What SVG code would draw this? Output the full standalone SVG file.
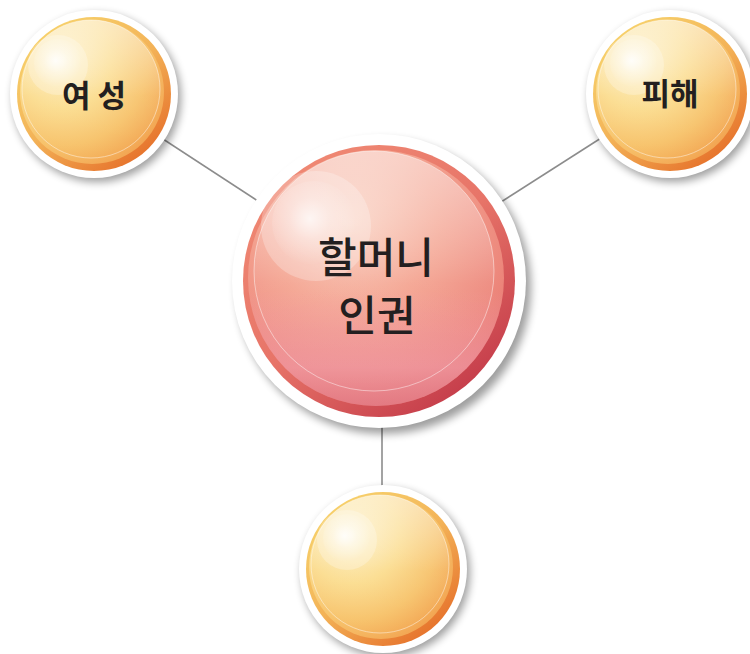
<svg xmlns="http://www.w3.org/2000/svg" width="750" height="654" viewBox="0 0 750 654">
<style>
.conn{stroke:#8c8c8c;stroke-width:1.6;fill:none}
.plate{fill:#fff}
.shadow{fill:#000;opacity:.38;filter:url(#blur)}
.hl{fill:#fff;opacity:.25}
.ring{fill:none;stroke:#fff;stroke-opacity:.45;stroke-width:1}
.lbl{font-family:"Noto Sans CJK KR","Noto Sans",sans-serif;fill:#231f20;text-anchor:middle;dominant-baseline:central}
.small{font-size:31px;font-weight:700}
.big{font-size:42px;font-weight:500}
</style>
<defs>
<filter id="blur" x="-20%" y="-20%" width="140%" height="140%"><feGaussianBlur stdDeviation="4"/></filter>
<linearGradient id="oRim" x1="0.15" y1="0.05" x2="0.85" y2="0.95">
<stop offset="0" stop-color="#f7d36c"/><stop offset="0.5" stop-color="#f3b257"/><stop offset="1" stop-color="#e56d28"/>
</linearGradient>
<radialGradient id="oBody" cx="0.3" cy="0.28" r="0.95">
<stop offset="0" stop-color="#fdf0c6"/><stop offset="0.35" stop-color="#fbdc8e"/><stop offset="0.62" stop-color="#f7c36c"/><stop offset="0.85" stop-color="#f2a451"/><stop offset="1" stop-color="#ee9042"/>
</radialGradient>
<linearGradient id="topGlow" x1="0" y1="0" x2="0" y2="1">
<stop offset="0" stop-color="#fff" stop-opacity=".5"/><stop offset="0.55" stop-color="#fff" stop-opacity=".06"/><stop offset="1" stop-color="#fff" stop-opacity="0"/>
</linearGradient>
<radialGradient id="spot" cx="0.45" cy="0.45" r="0.55">
<stop offset="0" stop-color="#fff" stop-opacity="1"/><stop offset="0.45" stop-color="#fff" stop-opacity=".4"/><stop offset="1" stop-color="#fff" stop-opacity="0"/>
</radialGradient>
<linearGradient id="rRim" x1="0.15" y1="0.05" x2="0.85" y2="0.95">
<stop offset="0" stop-color="#f08a74"/><stop offset="0.5" stop-color="#e77468"/><stop offset="1" stop-color="#c23848"/>
</linearGradient>
<radialGradient id="rBody" cx="0.4" cy="0.28" r="0.85">
<stop offset="0" stop-color="#f9cdbc"/><stop offset="0.4" stop-color="#f4a491"/><stop offset="0.75" stop-color="#ec857a"/><stop offset="1" stop-color="#de6a6c"/>
</radialGradient>
<linearGradient id="rBottom" x1="0" y1="0" x2="0" y2="1">
<stop offset="0.55" stop-color="#f4a0b0" stop-opacity="0"/><stop offset="0.85" stop-color="#f09aaa" stop-opacity=".6"/><stop offset="1" stop-color="#e07a90" stop-opacity=".5"/>
</linearGradient>
</defs>

<g id="connectors">
<line class="conn" x1="94" y1="94" x2="379" y2="280"/>
<line class="conn" x1="670" y1="94" x2="379" y2="280"/>
<line class="conn" x1="382" y1="280" x2="382" y2="569"/>
</g>

<g id="node-women" transform="translate(94,94)">
<circle class="shadow" cx="3" cy="4" r="84"/>
<circle class="plate" r="84"/>
<circle r="77" fill="url(#oRim)"/>
<circle cx="-2" cy="-2" r="72" fill="url(#oBody)"/>
<circle cx="-3" cy="-5" r="69" fill="url(#topGlow)"/>
<circle cx="-3" cy="-5" r="69" class="ring"/>
<circle class="hl" cx="-36" cy="-29" r="30"/>
<circle cx="-36" cy="-31" r="24" fill="url(#spot)" opacity=".85"/>
<text class="lbl small" x="0" y="-1">여 성</text>
</g>

<g id="node-damage" transform="translate(670,94)">
<circle class="shadow" cx="3" cy="4" r="84"/>
<circle class="plate" r="84"/>
<circle r="77" fill="url(#oRim)"/>
<circle cx="-2" cy="-2" r="72" fill="url(#oBody)"/>
<circle cx="-3" cy="-5" r="69" fill="url(#topGlow)"/>
<circle cx="-3" cy="-5" r="69" class="ring"/>
<circle class="hl" cx="-36" cy="-29" r="30"/>
<circle cx="-36" cy="-31" r="24" fill="url(#spot)" opacity=".85"/>
<text class="lbl small" x="0" y="-3">피해</text>
</g>

<g id="node-bottom" transform="translate(383,569)">
<circle class="shadow" cx="3" cy="4" r="84"/>
<circle class="plate" r="84"/>
<circle r="77" fill="url(#oRim)"/>
<circle cx="-2" cy="-2" r="72" fill="url(#oBody)"/>
<circle cx="-3" cy="-5" r="69" fill="url(#topGlow)"/>
<circle cx="-3" cy="-5" r="69" class="ring"/>
<circle class="hl" cx="-36" cy="-29" r="30"/>
<circle cx="-36" cy="-31" r="24" fill="url(#spot)" opacity=".85"/>
</g>

<g id="node-center" transform="translate(379,281)">
<circle class="shadow" cx="5" cy="6" r="147"/>
<circle class="plate" r="147"/>
<circle r="136" fill="url(#rRim)"/>
<circle cx="-3" cy="-3" r="128" fill="url(#rBody)"/>
<circle cx="-3" cy="-3" r="128" fill="url(#rBottom)"/>
<circle cx="-5" cy="-10" r="120" fill="url(#topGlow)"/>
<circle cx="-5" cy="-10" r="120" class="ring"/>
<circle class="hl" cx="-63" cy="-55" r="55"/>
<circle cx="-65" cy="-58" r="42" fill="url(#spot)" opacity=".75"/>
<text class="lbl big" x="-3" y="-27">할머니</text>
<text class="lbl big" x="-2" y="31">인권</text>
</g>
</svg>
